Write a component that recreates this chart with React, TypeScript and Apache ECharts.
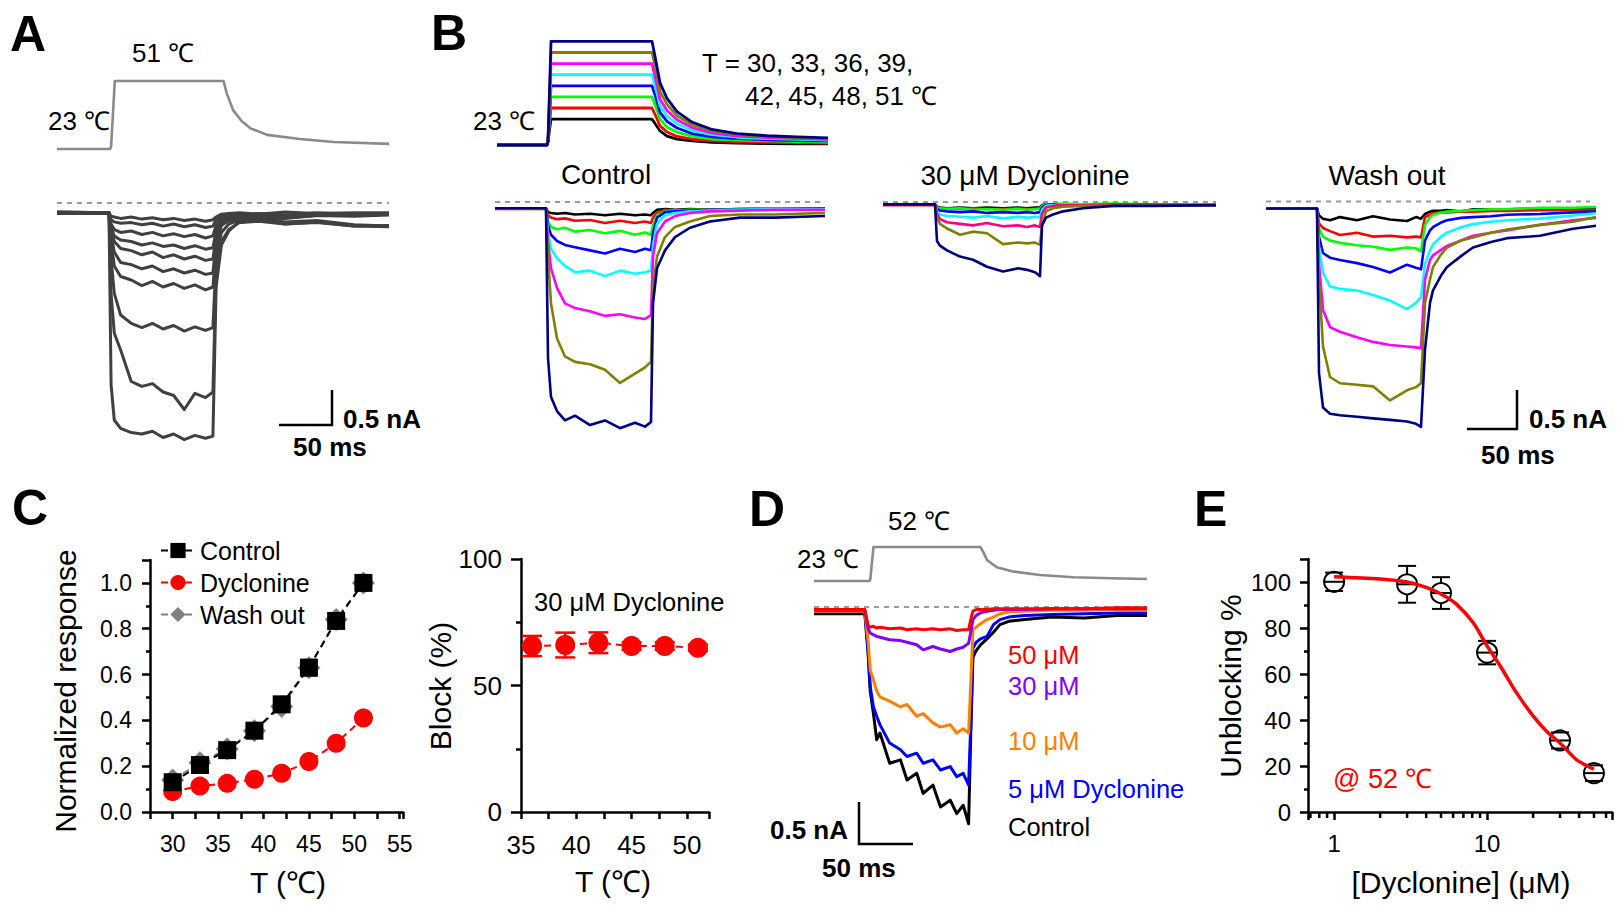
import React, { useEffect, useRef } from 'react';
import * as echarts from 'echarts';

const FONT = '"Liberation Sans", Arial, Helvetica, sans-serif';

// ===================== Panel A (ms, °C, nA) =====================
const timeATemp = [0, 50, 51, 54.5, 100, 157, 160, 166, 174, 182, 198, 229, 261, 313];
const tempA = [23, 23, 24, 51, 51, 51, 46, 39, 34.5, 31.6, 28.8, 27.1, 25.9, 25.1];
const timeA = [0, 49, 51, 54, 60, 70, 80, 90, 100, 110, 120, 130, 140, 147, 150, 155, 162, 172, 190, 215, 245, 280, 313];
const currentA1 = [-0.14, -0.14, -0.19, -0.2, -0.22, -0.2, -0.23, -0.21, -0.24, -0.22, -0.25, -0.23, -0.26, -0.24, -0.2, -0.16, -0.15, -0.14, -0.16, -0.13, -0.15, -0.14, -0.14];
const currentA2 = [-0.15, -0.15, -0.24, -0.27, -0.29, -0.28, -0.31, -0.29, -0.33, -0.3, -0.34, -0.31, -0.35, -0.33, -0.24, -0.18, -0.16, -0.17, -0.15, -0.17, -0.14, -0.16, -0.15];
const currentA3 = [-0.13, -0.14, -0.3, -0.38, -0.42, -0.4, -0.45, -0.42, -0.47, -0.44, -0.48, -0.45, -0.5, -0.47, -0.32, -0.2, -0.18, -0.2, -0.17, -0.19, -0.16, -0.17, -0.15];
const currentA4 = [-0.14, -0.14, -0.35, -0.47, -0.53, -0.55, -0.6, -0.57, -0.62, -0.6, -0.65, -0.61, -0.66, -0.64, -0.4, -0.23, -0.2, -0.24, -0.21, -0.27, -0.25, -0.31, -0.33];
const currentA5 = [-0.14, -0.15, -0.38, -0.55, -0.65, -0.68, -0.74, -0.7, -0.78, -0.74, -0.8, -0.76, -0.82, -0.8, -0.48, -0.26, -0.22, -0.25, -0.2, -0.22, -0.18, -0.19, -0.17];
const currentA6 = [-0.13, -0.14, -0.45, -0.7, -0.85, -0.88, -0.94, -0.9, -0.98, -0.94, -1.0, -0.96, -1.02, -1.0, -0.55, -0.3, -0.24, -0.28, -0.24, -0.3, -0.27, -0.33, -0.34];
const currentA7 = [-0.14, -0.14, -0.55, -0.9, -1.05, -1.1, -1.18, -1.12, -1.2, -1.15, -1.22, -1.17, -1.24, -1.2, -0.62, -0.32, -0.25, -0.2, -0.18, -0.2, -0.16, -0.18, -0.16];
const currentA8 = [-0.14, -0.14, -0.8, -1.29, -1.6, -1.72, -1.78, -1.72, -1.8, -1.75, -1.83, -1.77, -1.82, -1.78, -0.8, -0.42, -0.3, -0.24, -0.2, -0.21, -0.17, -0.18, -0.16];
const currentA9 = [-0.14, -0.15, -1.3, -1.86, -2.1, -2.55, -2.62, -2.58, -2.7, -2.75, -2.95, -2.72, -2.78, -2.7, -1.0, -0.55, -0.38, -0.28, -0.26, -0.3, -0.28, -0.33, -0.32];
const currentA10 = [-0.14, -0.14, -2.6, -3.1, -3.22, -3.28, -3.3, -3.26, -3.35, -3.3, -3.38, -3.32, -3.36, -3.33, -1.2, -0.6, -0.4, -0.26, -0.22, -0.21, -0.18, -0.17, -0.16];
const currentsA = [currentA1, currentA2, currentA3, currentA4, currentA5, currentA6, currentA7, currentA8, currentA9, currentA10];

// ===================== Panel B =====================
const colorsB = ['#000000', '#ff0000', '#00ff00', '#0000ff', '#00ffff', '#ff00ff', '#808000', '#000080'];
const colorsBDyclonine = ['#000000', '#ff0000', '#00ff00', '#0000ff', '#00ffff', '#ff0080', '#808000', '#000080'];
const timeBTemp = [0, 50, 51, 54, 100, 155, 158, 163, 170, 180, 195, 215, 240, 270, 300, 331];
const tempB30 = [23, 23, 24, 30, 30, 30, 28.8, 26.8, 25.4, 24.6, 24.1, 23.7, 23.5, 23.4, 23.3, 23.3];
const tempB33 = [23, 23, 24, 33, 33, 33, 31.3, 28.2, 26.5, 25.3, 24.6, 24.1, 23.9, 23.7, 23.6, 23.5];
const tempB36 = [23, 23, 24, 36, 36, 36, 34, 30, 27.8, 26.5, 25.4, 24.6, 24.3, 24.1, 23.9, 23.8];
const tempB39 = [23, 23, 24, 39, 39, 39, 36.6, 31.8, 29.4, 27.6, 26.1, 25.2, 24.7, 24.4, 24.2, 24.1];
const tempB42 = [23, 23, 24, 42, 42, 42, 39.1, 33.6, 30.8, 28.8, 26.9, 25.8, 25.1, 24.7, 24.5, 24.3];
const tempB45 = [23, 23, 24, 45, 45, 45, 41.7, 35.4, 32.3, 29.8, 27.7, 26.3, 25.4, 25, 24.7, 24.5];
const tempB48 = [23, 23, 24, 48, 48, 48, 44.5, 37.5, 34, 30.9, 28.5, 26.8, 25.8, 25.3, 25, 24.7];
const tempB51 = [23, 23, 24, 51, 51, 51, 47, 39.8, 35.6, 32, 29.2, 27.2, 26.1, 25.5, 25.2, 24.9];
const tempsB = [tempB30, tempB33, tempB36, tempB39, tempB42, tempB45, tempB48, tempB51];

const timeBControl = [0, 51, 53, 56, 62, 70, 80, 95, 110, 125, 140, 150, 156, 158, 162, 170, 180, 195, 215, 245, 280, 330];
const controlB30 = [-0.08, -0.08, -0.13, -0.14, -0.15, -0.14, -0.16, -0.15, -0.17, -0.15, -0.17, -0.16, -0.17, -0.14, -0.1, -0.09, -0.1, -0.09, -0.1, -0.09, -0.08, -0.08];
const controlB33 = [-0.09, -0.09, -0.17, -0.2, -0.22, -0.21, -0.24, -0.23, -0.27, -0.24, -0.27, -0.25, -0.27, -0.2, -0.14, -0.1, -0.11, -0.1, -0.1, -0.09, -0.09, -0.08];
const controlB36 = [-0.08, -0.09, -0.25, -0.32, -0.35, -0.33, -0.38, -0.36, -0.4, -0.37, -0.42, -0.39, -0.42, -0.3, -0.17, -0.12, -0.11, -0.1, -0.1, -0.09, -0.08, -0.08];
const controlB39 = [-0.08, -0.08, -0.3, -0.42, -0.5, -0.55, -0.58, -0.62, -0.66, -0.6, -0.64, -0.6, -0.62, -0.4, -0.2, -0.13, -0.12, -0.11, -0.1, -0.1, -0.09, -0.08];
const controlB42 = [-0.08, -0.08, -0.4, -0.6, -0.72, -0.82, -0.9, -0.88, -0.95, -0.88, -0.92, -0.9, -0.88, -0.55, -0.28, -0.17, -0.14, -0.12, -0.11, -0.1, -0.09, -0.09];
const controlB45 = [-0.08, -0.08, -0.5, -0.85, -1.1, -1.3, -1.36, -1.4, -1.46, -1.44, -1.48, -1.5, -1.45, -0.7, -0.4, -0.25, -0.18, -0.14, -0.12, -0.11, -0.1, -0.1];
const controlB48 = [-0.08, -0.08, -0.7, -1.3, -1.75, -1.98, -2.05, -2.08, -2.15, -2.32, -2.2, -2.12, -2.05, -1.1, -0.7, -0.45, -0.32, -0.25, -0.18, -0.16, -0.16, -0.14];
const controlB51 = [-0.08, -0.08, -2.0, -2.5, -2.68, -2.8, -2.74, -2.86, -2.8, -2.9, -2.83, -2.88, -2.82, -1.3, -0.85, -0.62, -0.45, -0.33, -0.25, -0.2, -0.2, -0.18];
const controlsB = [controlB30, controlB33, controlB36, controlB39, controlB42, controlB45, controlB48, controlB51];

const timeBDyclonine = [0, 52, 54, 57, 64, 77, 90, 104, 120, 135, 144, 152, 157, 159, 163, 170, 180, 200, 230, 270, 333];
const dyclonineB30 = [-0.03, -0.03, -0.06, -0.07, -0.08, -0.07, -0.08, -0.07, -0.08, -0.07, -0.08, -0.07, -0.07, -0.04, -0.03, -0.03, -0.03, -0.03, -0.03, -0.03, -0.03];
const dyclonineB33 = [-0.04, -0.04, -0.07, -0.08, -0.08, -0.09, -0.08, -0.09, -0.09, -0.08, -0.09, -0.09, -0.08, -0.05, -0.04, -0.04, -0.04, -0.04, -0.04, -0.04, -0.04];
const dyclonineB36 = [-0.03, -0.03, -0.07, -0.08, -0.09, -0.08, -0.1, -0.09, -0.1, -0.09, -0.1, -0.09, -0.09, -0.05, -0.03, -0.03, -0.02, -0.03, -0.02, -0.03, -0.03];
const dyclonineB39 = [-0.03, -0.03, -0.09, -0.11, -0.12, -0.13, -0.12, -0.14, -0.13, -0.14, -0.13, -0.14, -0.13, -0.07, -0.04, -0.03, -0.03, -0.03, -0.04, -0.03, -0.03];
const dyclonineB42 = [-0.03, -0.03, -0.12, -0.16, -0.18, -0.19, -0.2, -0.18, -0.21, -0.19, -0.2, -0.19, -0.2, -0.1, -0.05, -0.04, -0.03, -0.03, -0.03, -0.03, -0.03];
const dyclonineB45 = [-0.03, -0.03, -0.15, -0.22, -0.26, -0.28, -0.3, -0.27, -0.31, -0.3, -0.32, -0.3, -0.32, -0.15, -0.07, -0.05, -0.04, -0.04, -0.03, -0.03, -0.04];
const dyclonineB48 = [-0.03, -0.03, -0.2, -0.28, -0.34, -0.42, -0.38, -0.4, -0.54, -0.52, -0.53, -0.52, -0.55, -0.3, -0.12, -0.08, -0.06, -0.05, -0.05, -0.04, -0.04];
const dyclonineB51 = [-0.03, -0.03, -0.5, -0.56, -0.62, -0.7, -0.74, -0.83, -0.89, -0.85, -0.87, -0.9, -0.95, -0.3, -0.2, -0.16, -0.12, -0.08, -0.05, -0.05, -0.04];
const dycloninesB = [dyclonineB30, dyclonineB33, dyclonineB36, dyclonineB39, dyclonineB42, dyclonineB45, dyclonineB48, dyclonineB51];

const timeBWash = [0, 51, 53, 57, 64, 74, 91, 107, 124, 141, 150, 155, 159, 164, 167, 175, 181, 195, 207, 225, 241, 274, 307, 330];
const washB30 = [-0.09, -0.09, -0.18, -0.22, -0.24, -0.2, -0.24, -0.19, -0.23, -0.25, -0.2, -0.22, -0.16, -0.13, -0.12, -0.12, -0.11, -0.13, -0.1, -0.1, -0.1, -0.09, -0.09, -0.09];
const washB33 = [-0.09, -0.09, -0.28, -0.34, -0.38, -0.43, -0.4, -0.45, -0.44, -0.46, -0.45, -0.46, -0.2, -0.17, -0.15, -0.14, -0.14, -0.13, -0.13, -0.12, -0.12, -0.11, -0.11, -0.11];
const washB36 = [-0.09, -0.09, -0.35, -0.45, -0.5, -0.53, -0.56, -0.58, -0.62, -0.59, -0.6, -0.64, -0.3, -0.2, -0.17, -0.14, -0.13, -0.12, -0.11, -0.1, -0.1, -0.08, -0.08, -0.07];
const washB39 = [-0.09, -0.09, -0.45, -0.66, -0.72, -0.75, -0.79, -0.84, -0.91, -0.81, -0.85, -0.87, -0.5, -0.37, -0.33, -0.27, -0.24, -0.21, -0.2, -0.19, -0.17, -0.16, -0.14, -0.13];
const washB42 = [-0.09, -0.09, -0.6, -0.91, -1.09, -1.12, -1.14, -1.2, -1.27, -1.38, -1.3, -1.23, -0.8, -0.63, -0.55, -0.45, -0.4, -0.33, -0.29, -0.26, -0.24, -0.22, -0.18, -0.15];
const washB45 = [-0.09, -0.09, -0.8, -1.39, -1.61, -1.67, -1.74, -1.8, -1.84, -1.86, -1.87, -1.88, -1.0, -0.75, -0.69, -0.62, -0.57, -0.5, -0.44, -0.4, -0.37, -0.3, -0.24, -0.21];
const washB48 = [-0.09, -0.09, -1.0, -1.86, -2.25, -2.33, -2.35, -2.37, -2.55, -2.42, -2.38, -2.33, -1.3, -1.0, -0.84, -0.68, -0.59, -0.5, -0.46, -0.4, -0.36, -0.3, -0.26, -0.2];
const washB51 = [-0.09, -0.09, -2.2, -2.64, -2.72, -2.74, -2.76, -2.78, -2.8, -2.82, -2.85, -2.89, -1.9, -1.3, -1.14, -0.95, -0.84, -0.7, -0.59, -0.52, -0.47, -0.44, -0.35, -0.31];
const washesB = [washB30, washB33, washB36, washB39, washB42, washB45, washB48, washB51];

// ===================== Panel C =====================
const tempsC = [30, 33, 36, 39, 42, 45, 48, 51];
const controlC = [0.13, 0.205, 0.27, 0.355, 0.47, 0.63, 0.834, 1.0];
const controlErrC = [0.01, 0.01, 0.015, 0.015, 0.015, 0.03, 0.02, 0.01];
const dyclonineC = [0.089, 0.113, 0.125, 0.143, 0.169, 0.22, 0.3, 0.41];
const dyclonineErrC = [0.01, 0.01, 0.01, 0.01, 0.015, 0.015, 0.015, 0.02];
const washC = [0.14, 0.215, 0.275, 0.355, 0.46, 0.63, 0.84, 1.0];
const washErrC = [0.01, 0.01, 0.01, 0.01, 0.015, 0.035, 0.015, 0.01];
const blockT = [36, 39, 42, 45, 48, 51];
const blockPct = [65.6, 66, 66.9, 65.6, 65.6, 64.9];
const blockErr = [4, 4.9, 4.1, 1.5, 1.5, 1.2];

// ===================== Panel D =====================
const timeDTemp = [0, 51, 52, 55, 100, 154, 157, 160, 169, 185, 209, 240, 275, 308];
const tempD = [23, 23, 24, 52, 52, 52, 47, 41, 34.7, 31, 28.1, 26.2, 25.3, 24.7];
const timeD = [0, 47, 50, 52, 55, 58, 61, 70, 80, 86, 95, 101, 110, 117, 126, 132, 138, 143, 145, 147, 150, 154, 160, 166, 172, 180, 195, 220, 250, 280, 308];
const currentDControl = [-0.08, -0.08, -0.55, -1.0, -1.27, -1.58, -1.5, -1.86, -1.82, -2.06, -1.98, -2.22, -2.12, -2.38, -2.3, -2.46, -2.36, -2.58, -1.5, -0.6, -0.52, -0.45, -0.38, -0.3, -0.21, -0.17, -0.15, -0.12, -0.13, -0.1, -0.1];
const currentD5 = [-0.05, -0.05, -0.5, -0.95, -1.19, -1.3, -1.4, -1.62, -1.7, -1.78, -1.74, -1.86, -1.82, -1.94, -1.9, -2.02, -1.98, -2.12, -1.4, -0.49, -0.42, -0.38, -0.35, -0.21, -0.15, -0.12, -0.1, -0.09, -0.08, -0.07, -0.07];
const currentD10 = [-0.05, -0.05, -0.4, -0.75, -0.87, -1.0, -1.07, -1.12, -1.19, -1.16, -1.3, -1.27, -1.38, -1.43, -1.4, -1.5, -1.45, -1.5, -0.9, -0.27, -0.24, -0.2, -0.15, -0.12, -0.08, -0.06, -0.05, -0.04, -0.04, -0.03, -0.03];
const currentD30 = [-0.04, -0.04, -0.25, -0.31, -0.33, -0.35, -0.36, -0.39, -0.4, -0.42, -0.45, -0.51, -0.47, -0.5, -0.53, -0.5, -0.48, -0.43, -0.3, -0.15, -0.1, -0.07, -0.05, -0.04, -0.03, -0.03, -0.03, -0.02, -0.02, -0.02, -0.02];
const currentD50 = [-0.03, -0.03, -0.22, -0.24, -0.23, -0.25, -0.24, -0.26, -0.25, -0.27, -0.26, -0.27, -0.26, -0.27, -0.26, -0.28, -0.27, -0.27, -0.15, -0.05, -0.03, -0.03, -0.03, -0.02, -0.02, -0.02, -0.02, -0.02, -0.02, -0.01, -0.01];
const labelsD = ['Control', '5 μM Dyclonine', '10 μM', '30 μM', '50 μM'];
const colorsD = ['#000000', '#0000ff', '#ff8000', '#8000ff', '#ff0000'];

// ===================== Panel E =====================
const concE = [1, 3, 5, 10, 30, 50];
const unblockE = [100.1, 99, 95.2, 69.3, 31.1, 16.9];
const unblockErrE = [4, 8, 6.9, 5.1, 3.5, 3.4];
const fitConcE = [1, 2, 3, 4, 5, 6.3, 8.1, 10, 12.2, 15.6, 20.1, 24.5, 30, 38.6, 50];
const fitUnblockE = [102.3, 101.3, 100, 97.7, 94.8, 90.4, 82.4, 72.2, 63.5, 51.8, 41.6, 35.1, 30, 22.7, 18.6];
const minorTicksE = [0.7, 0.8, 0.9, 2, 3, 4, 5, 6, 7, 8, 9, 20, 30, 40, 50, 60];

// ===================== option building =====================
function buildOption() {
  const grids: any[] = [];
  const xAxes: any[] = [];
  const yAxes: any[] = [];
  const series: any[] = [];

  const addTraceGrid = (left: number, right: number, y0: number, ppu: number, vRef: number, vMin: number, vMax: number, tMax: number) => {
    const idx = grids.length;
    grids.push({ left, width: right - left, top: y0 - (vMax - vRef) * ppu, height: (vMax - vMin) * ppu, outerBoundsMode: 'none', containLabel: false });
    xAxes.push({ type: 'value', gridIndex: idx, min: 0, max: tMax, show: false });
    yAxes.push({ type: 'value', gridIndex: idx, min: vMin, max: vMax, show: false });
    return idx;
  };
  const addTrace = (idx: number, times: number[], vals: number[], color: string, width: number) => {
    series.push({
      type: 'line', xAxisIndex: idx, yAxisIndex: idx, silent: true, symbol: 'none', z: 3,
      data: times.map((t, i) => [t, vals[i]]),
      lineStyle: { color, width, join: 'round' },
    });
  };
  const addBaseline = (idx: number, tMax: number) => {
    series.push({
      type: 'line', xAxisIndex: idx, yAxisIndex: idx, silent: true, symbol: 'none', z: 2,
      data: [[0, 0], [tMax, 0]],
      lineStyle: { color: '#9a9a9a', width: 1.8, type: [5, 5] },
    });
  };
  const axisBase = (fontSize: number, margin: number, tickLen: number) => ({
    axisLine: { show: true, onZero: false, lineStyle: { color: '#000', width: 2.5 } },
    axisTick: { show: true, inside: false, length: tickLen, lineStyle: { color: '#000', width: 2.5 } },
    splitLine: { show: false },
    axisLabel: { show: true, color: '#000', fontFamily: FONT, fontSize, margin },
  });
  const errBars = (idx: number, xs: number[], ys: number[], es: number[], color: string, halfW: number, lw: number) => {
    series.push({
      type: 'custom', xAxisIndex: idx, yAxisIndex: idx, silent: true, clip: false, z: 2,
      data: xs.map((x, i) => [x, ys[i], es[i]]),
      renderItem: (params: any, api: any) => {
        const x = api.value(0), y = api.value(1), e = api.value(2);
        const p1 = api.coord([x, y + e]);
        const p2 = api.coord([x, y - e]);
        const st = { stroke: color, lineWidth: lw };
        return {
          type: 'group', children: [
            { type: 'line', shape: { x1: p1[0], y1: p1[1], x2: p2[0], y2: p2[1] }, style: st },
            { type: 'line', shape: { x1: p1[0] - halfW, y1: p1[1], x2: p1[0] + halfW, y2: p1[1] }, style: st },
            { type: 'line', shape: { x1: p2[0] - halfW, y1: p2[1], x2: p2[0] + halfW, y2: p2[1] }, style: st },
          ],
        };
      },
    });
  };

  // ---- Panel A
  const gAT = addTraceGrid(57, 389, 149, 2.43, 23, 20, 54, 313);
  addTrace(gAT, timeATemp, tempA, '#8a8a8a', 2.6);
  const gAC = addTraceGrid(57, 389, 203, 70, 0, -3.8, 0.3, 313);
  addBaseline(gAC, 313);
  currentsA.forEach((c) => addTrace(gAC, timeA, c, '#404040', 3));

  // ---- Panel B
  const gBT = addTraceGrid(497, 828, 145, 3.7, 23, 20, 54, 331);
  tempsB.forEach((v, i) => addTrace(gBT, timeBTemp, v, colorsB[i], 2.8));
  const gBC = addTraceGrid(495, 825, 202, 78, 0, -3.2, 0.3, 330);
  addBaseline(gBC, 325);
  controlsB.forEach((v, i) => addTrace(gBC, timeBControl, v, colorsB[i], 2.6));
  const gBD = addTraceGrid(883, 1216, 202, 78, 0, -3.2, 0.3, 333);
  addBaseline(gBD, 333);
  dycloninesB.forEach((v, i) => addTrace(gBD, timeBDyclonine, v, colorsBDyclonine[i], 2.6));
  const gBW = addTraceGrid(1266, 1596, 201.5, 78, 0, -3.2, 0.3, 330);
  addBaseline(gBW, 324);
  washesB.forEach((v, i) => addTrace(gBW, timeBWash, v, colorsB[i], 2.6));

  // ---- Panel C left
  const gCL = grids.length;
  grids.push({ left: 150, top: 560, width: 253, height: 252, outerBoundsMode: 'none', containLabel: false });
  const bCLx = axisBase(23, 20, 7);
  xAxes.push({
    type: 'value', gridIndex: gCL, min: 27.5, max: 55.36, interval: 2.5, ...bCLx,
    axisLabel: { ...bCLx.axisLabel, formatter: (v: number) => (Math.abs(v / 5 - Math.round(v / 5)) < 1e-6 ? String(Math.round(v)) : '') },
  });
  const bCLy = axisBase(23, 18, 8);
  yAxes.push({
    type: 'value', gridIndex: gCL, min: 0, max: 1.1, interval: 0.2, ...bCLy,
    minorTick: { show: true, splitNumber: 2, length: 4, lineStyle: { color: '#000', width: 2.5 } },
    axisLabel: { ...bCLy.axisLabel, formatter: (v: number) => (v > 1.05 ? '' : v.toFixed(1)) },
  });
  errBars(gCL, tempsC, dyclonineC, dyclonineErrC, '#ff0000', 8, 2);
  errBars(gCL, tempsC, washC, washErrC, '#808080', 8, 2);
  errBars(gCL, tempsC, controlC, controlErrC, '#000000', 8, 2);
  series.push({
    name: 'Dyclonine', type: 'line', xAxisIndex: gCL, yAxisIndex: gCL, silent: true, z: 3,
    data: tempsC.map((t, i) => [t, dyclonineC[i]]),
    symbol: 'circle', symbolSize: 19, itemStyle: { color: '#ff0000' },
    lineStyle: { color: '#ff0000', width: 2, type: [7, 5] },
  });
  series.push({
    name: 'Wash out', type: 'line', xAxisIndex: gCL, yAxisIndex: gCL, silent: true, z: 3,
    data: tempsC.map((t, i) => [t, washC[i]]),
    symbol: 'diamond', symbolSize: 23, itemStyle: { color: '#808080' },
    lineStyle: { color: '#808080', width: 2, type: [7, 5] },
  });
  series.push({
    name: 'Control', type: 'line', xAxisIndex: gCL, yAxisIndex: gCL, silent: true, z: 3,
    data: tempsC.map((t, i) => [t, controlC[i]]),
    symbol: 'rect', symbolSize: 18, itemStyle: { color: '#000000' },
    lineStyle: { color: '#000000', width: 2, type: [7, 5] },
  });

  // ---- Panel C right
  const gCR = grids.length;
  grids.push({ left: 521, top: 559, width: 188, height: 253, outerBoundsMode: 'none', containLabel: false });
  const bCRx = axisBase(26, 20, 7);
  xAxes.push({
    type: 'value', gridIndex: gCR, min: 35, max: 52, interval: 2.5, ...bCRx,
    axisLabel: { ...bCRx.axisLabel, formatter: (v: number) => (Math.abs(v / 5 - Math.round(v / 5)) < 1e-6 && v < 51 ? String(Math.round(v)) : '') },
  });
  const bCRy = axisBase(26, 19, 10);
  yAxes.push({
    type: 'value', gridIndex: gCR, min: 0, max: 100, interval: 50, ...bCRy,
    minorTick: { show: true, splitNumber: 2, length: 5, lineStyle: { color: '#000', width: 2.5 } },
  });
  errBars(gCR, blockT, blockPct, blockErr, '#ff0000', 10, 2.5);
  series.push({
    type: 'line', xAxisIndex: gCR, yAxisIndex: gCR, silent: true, z: 3,
    data: blockT.map((t, i) => [t, blockPct[i]]),
    symbol: 'circle', symbolSize: 20, itemStyle: { color: '#ff0000' },
    lineStyle: { color: '#ff0000', width: 2, type: [7, 5] },
  });

  // ---- Panel D
  const gDT = addTraceGrid(814, 1147, 581, 1.17, 23, 20, 55, 308);
  addTrace(gDT, timeDTemp, tempD, '#8a8a8a', 2.6);
  const gDC = addTraceGrid(814, 1147, 607, 84, 0, -2.9, 0.2, 308);
  addBaseline(gDC, 308);
  [currentDControl, currentD5, currentD10, currentD30, currentD50].forEach((v, i) => addTrace(gDC, timeD, v, colorsD[i], 3));

  // ---- Panel E
  const gE = grids.length;
  grids.push({ left: 1308, top: 559, width: 304, height: 253, outerBoundsMode: 'none', containLabel: false });
  const bEx = axisBase(24, 19, 8);
  xAxes.push({
    type: 'log', logBase: 10, gridIndex: gE, min: 0.675, max: 65.6, ...bEx,
    axisLabel: {
      ...bEx.axisLabel,
      formatter: (v: number) => (Math.abs(v - 1) < 1e-6 ? '1' : Math.abs(v - 10) < 1e-6 ? '10' : ''),
    },
  });
  const bEy = axisBase(24, 17, 8);
  yAxes.push({
    type: 'value', gridIndex: gE, min: 0, max: 110, interval: 20, ...bEy,
    minorTick: { show: true, splitNumber: 2, length: 4, lineStyle: { color: '#000', width: 2.5 } },
    axisLabel: { ...bEy.axisLabel, formatter: (v: number) => (v > 105 ? '' : String(v)) },
  });
  series.push({
    type: 'custom', xAxisIndex: gE, yAxisIndex: gE, silent: true, clip: false, z: 2,
    data: minorTicksE.map((v) => [v, 0]),
    renderItem: (params: any, api: any) => {
      const p = api.coord([api.value(0), 0]);
      return { type: 'line', shape: { x1: p[0], y1: p[1], x2: p[0], y2: p[1] + 6 }, style: { stroke: '#000', lineWidth: 2.5 } };
    },
  });
  series.push({
    type: 'custom', xAxisIndex: gE, yAxisIndex: gE, silent: true, clip: false, z: 3,
    data: concE.map((c, i) => [c, unblockE[i], unblockErrE[i]]),
    renderItem: (params: any, api: any) => {
      const x = api.value(0), y = api.value(1), e = api.value(2);
      const c = api.coord([x, y]);
      const pt = api.coord([x, y + e]);
      const pb = api.coord([x, y - e]);
      const r = 10, w = 9;
      const st = { stroke: '#000', lineWidth: 2 };
      const ch: any[] = [
        { type: 'circle', shape: { cx: c[0], cy: c[1], r }, style: { stroke: '#000', lineWidth: 2, fill: 'rgba(255,255,255,0)' } },
        { type: 'line', shape: { x1: c[0] - r, y1: c[1], x2: c[0] + r, y2: c[1] }, style: st },
        { type: 'line', shape: { x1: pt[0] - w, y1: pt[1], x2: pt[0] + w, y2: pt[1] }, style: st },
        { type: 'line', shape: { x1: pb[0] - w, y1: pb[1], x2: pb[0] + w, y2: pb[1] }, style: st },
      ];
      if (pt[1] < c[1] - r) ch.push({ type: 'line', shape: { x1: c[0], y1: pt[1], x2: c[0], y2: c[1] - r }, style: st });
      if (pb[1] > c[1] + r) ch.push({ type: 'line', shape: { x1: c[0], y1: c[1] + r, x2: c[0], y2: pb[1] }, style: st });
      return { type: 'group', children: ch };
    },
  });
  series.push({
    type: 'line', xAxisIndex: gE, yAxisIndex: gE, silent: true, z: 4, symbol: 'none', smooth: 0.3,
    data: fitConcE.map((c, i) => [c, fitUnblockE[i]]),
    lineStyle: { color: '#ff0000', width: 3.5 },
  });

  // ---- Graphic texts, labels and scale bars
  const txt = (text: string, x: number, y: number, size: number, o: any = {}) => ({
    type: 'text', x, y, silent: true, z: 100, rotation: o.rot || 0,
    style: {
      text, fontSize: size, fontFamily: FONT, fontWeight: o.bold ? 'bold' : 'normal', fill: o.color || '#000',
      align: o.align || 'left', textAlign: o.align || 'left', verticalAlign: 'middle', textVerticalAlign: 'middle',
    },
  });
  const bar = (pts: number[][]) => ({
    type: 'polyline', silent: true, z: 100, shape: { points: pts },
    style: { stroke: '#000', lineWidth: 2.5, fill: 'none' },
  });

  const graphics: any[] = [
    txt('A', 10, 34, 50, { bold: true }),
    txt('B', 431, 33, 50, { bold: true }),
    txt('C', 12, 508, 50, { bold: true }),
    txt('D', 749, 509, 50, { bold: true }),
    txt('E', 1194, 509, 50, { bold: true }),
    // A
    txt('51 ℃', 132, 53, 26),
    txt('23 ℃', 48, 121, 26),
    bar([[279, 425], [332, 425], [332, 390]]),
    txt('0.5 nA', 343, 419, 26, { bold: true }),
    txt('50 ms', 293, 447, 26, { bold: true }),
    // B
    txt('23 ℃', 473, 121, 26),
    txt('T = 30, 33, 36, 39,', 702, 63, 26),
    txt('42, 45, 48, 51 ℃', 745, 96, 26),
    txt('Control', 606, 174, 28, { align: 'center' }),
    txt('30 μM Dyclonine', 1025, 175, 28, { align: 'center' }),
    txt('Wash out', 1387, 175, 28, { align: 'center' }),
    bar([[1467, 429], [1517, 429], [1517, 390]]),
    txt('0.5 nA', 1529, 419, 26, { bold: true }),
    txt('50 ms', 1481, 455, 26, { bold: true }),
    // C
    txt('Normalized response', 65, 691, 30, { align: 'center', rot: Math.PI / 2 }),
    txt('T (℃)', 288, 882, 30, { align: 'center' }),
    txt('Block (%)', 440, 686, 30, { align: 'center', rot: Math.PI / 2 }),
    txt('T (℃)', 613, 881, 30, { align: 'center' }),
    txt('30 μM Dyclonine', 534, 602, 25.5),
    // D
    txt('52 ℃', 888, 521, 26),
    txt('23 ℃', 797, 559, 26),
    txt('50 μM', 1008, 655, 25.5, { color: colorsD[4] }),
    txt('30 μM', 1008, 686, 25.5, { color: colorsD[3] }),
    txt('10 μM', 1008, 741, 25.5, { color: colorsD[2] }),
    txt(labelsD[1], 1008, 789, 25.5, { color: colorsD[1] }),
    txt(labelsD[0], 1008, 827, 25.5, { color: colorsD[0] }),
    bar([[859, 802], [859, 844], [913, 844]]),
    txt('0.5 nA', 848, 830, 26, { bold: true, align: 'right' }),
    txt('50 ms', 822, 868, 26, { bold: true }),
    // E
    txt('Unblocking %', 1230, 686, 30, { align: 'center', rot: Math.PI / 2 }),
    txt('[Dyclonine] (μM)', 1461, 882, 30, { align: 'center' }),
    txt('@ 52 ℃', 1333, 779, 27, { color: '#ff0000' }),
  ];

  return {
    animation: false,
    backgroundColor: '#ffffff',
    textStyle: { fontFamily: FONT },
    grid: grids,
    xAxis: xAxes,
    yAxis: yAxes,
    legend: {
      data: ['Control', 'Dyclonine', 'Wash out'],
      orient: 'vertical', left: 155, top: 533, itemWidth: 34, itemHeight: 19, itemGap: 7,
      selectedMode: false,
      textStyle: { fontFamily: FONT, fontSize: 25, color: '#000' },
    },
    series,
    graphic: { elements: graphics },
  };
}

export default function App() {
  const ref = useRef<HTMLDivElement>(null);
  useEffect(() => {
    document.body.style.margin = '0';
    const chart = echarts.init(ref.current as HTMLDivElement, null, { renderer: 'svg' });
    chart.setOption(buildOption() as any);
    return () => chart.dispose();
  }, []);
  return <div ref={ref} style={{ width: 1619, height: 905, background: '#fff' }} />;
}
